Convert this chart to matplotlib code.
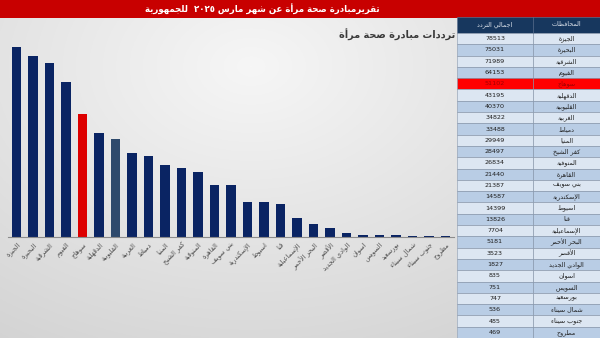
import numpy as np
import matplotlib
matplotlib.use("Agg")
import matplotlib.pyplot as plt
from matplotlib.patches import Rectangle

# ---------------- data ----------------
governorates = ["الجيزة", "البحيرة", "الشرقية", "الفيوم", "سوهاج", "الدقهلية",
                "القليوبية", "الغربية", "دمياط", "المنيا", "كفر الشيخ", "المنوفية",
                "القاهرة", "بني سويف", "الإسكندرية", "اسيوط", "قنا", "الإسماعيلية",
                "البحر الأحمر", "الأقصر", "الوادي الجديد", "اسوان", "السويس",
                "بورسعيد", "شمال سيناء", "جنوب سيناء", "مطروح"]
visits = [78513, 75031, 71989, 64153, 51102, 43195, 40370, 34822, 33488, 29949,
          28497, 26834, 21440, 21387, 14587, 14399, 13826, 7704, 5181, 3523,
          1827, 835, 751, 747, 536, 485, 469]
highlight_red = "سوهاج"
highlight_slate = "القليوبية"
main_title = "تقريرمبادرة صحة مرأة عن شهر مارس ٢٠٢٥  للجمهورية"
chart_title = "ترددات مبادرة صحة مرأة"
col_headers = ["اجمالي التردد", "المحافظات"]

# ------------- simple Arabic shaping (presentation forms + RTL) -------------
DUAL = {'ب': 0xFE8F, 'ت': 0xFE95, 'ث': 0xFE99, 'ج': 0xFE9D, 'ح': 0xFEA1, 'خ': 0xFEA5,
        'س': 0xFEB1, 'ش': 0xFEB5, 'ص': 0xFEB9, 'ض': 0xFEBD, 'ط': 0xFEC1, 'ظ': 0xFEC5,
        'ع': 0xFEC9, 'غ': 0xFECD, 'ف': 0xFED1, 'ق': 0xFED5, 'ك': 0xFED9, 'ل': 0xFEDD,
        'م': 0xFEE1, 'ن': 0xFEE5, 'ه': 0xFEE9, 'ي': 0xFEF1, 'ئ': 0xFE89}
RIGHT = {'ا': 0xFE8D, 'أ': 0xFE83, 'إ': 0xFE87, 'آ': 0xFE81, 'ة': 0xFE93, 'د': 0xFEA9,
         'ذ': 0xFEAB, 'ر': 0xFEAD, 'ز': 0xFEAF, 'و': 0xFEED, 'ى': 0xFEEF, 'ؤ': 0xFE85}
NONE = {'ء': 0xFE80}
LAMALEF = {'آ': 0xFEF5, 'أ': 0xFEF7, 'إ': 0xFEF9, 'ا': 0xFEFB}
DIGITS = set("0123456789٠١٢٣٤٥٦٧٨٩")


def shape(text):
    toks = []
    i = 0
    while i < len(text):
        c = text[i]
        if c == 'ل' and i + 1 < len(text) and text[i + 1] in LAMALEF:
            toks.append(('R', LAMALEF[text[i + 1]]))
            i += 2
            continue
        if c in DUAL:
            toks.append(('D', DUAL[c]))
        elif c in RIGHT:
            toks.append(('R', RIGHT[c]))
        elif c in NONE:
            toks.append(('N', NONE[c]))
        else:
            toks.append(('X', c))
        i += 1
    out = []
    for k, (kind, val) in enumerate(toks):
        if kind == 'X':
            out.append(val)
            continue
        prev = k > 0 and toks[k - 1][0] == 'D'
        nxt = kind == 'D' and k + 1 < len(toks) and toks[k + 1][0] in ('D', 'R')
        if kind == 'N':
            out.append(chr(val))
        elif kind == 'R':
            out.append(chr(val + (1 if prev else 0)))
        else:
            off = {(False, False): 0, (True, False): 1, (False, True): 2, (True, True): 3}[(prev, nxt)]
            out.append(chr(val + off))
    vis = out[::-1]
    res = []
    j = 0
    while j < len(vis):
        if vis[j] in DIGITS:
            m = j
            while m < len(vis) and vis[m] in DIGITS:
                m += 1
            res.extend(vis[j:m][::-1])
            j = m
        else:
            res.append(vis[j])
            j += 1
    return "".join(res)


plt.rcParams['font.family'] = ['DejaVu Sans']

W, H = 600, 338
fig = plt.figure(figsize=(6, 3.38), dpi=100)
fig.patch.set_facecolor('white')

# ---------- background gradient for chart area ----------
bg = fig.add_axes([0, 0, 457 / W, (H - 18) / H])
yy, xx = np.mgrid[0:1:200j, 0:1:300j]
d = np.sqrt(((xx - 0.55) / 1.0) ** 2 + ((yy - 0.15) / 1.0) ** 2)
val = 0.965 - 0.16 * np.clip(d, 0, 1.2) / 1.2
img = np.dstack([val, val, val])
bg.imshow(img, aspect='auto', extent=[0, 1, 1, 0])
bg.set_axis_off()

# ---------- bar chart ----------
left_px = 8.45
width_px = 16.5 * 27
base_px = 237
top_px = 40
ax = fig.add_axes([left_px / W, (H - base_px) / H, width_px / W, (base_px - top_px) / H])
ax.patch.set_alpha(0)
colors = []
for g in governorates:
    if g == highlight_red:
        colors.append('#DD0000')
    elif g == highlight_slate:
        colors.append('#2E4A6C')
    else:
        colors.append('#0A2463')
x = np.arange(len(governorates))
ax.bar(x, visits, width=0.57, color=colors)
ax.set_xlim(-0.5, len(governorates) - 0.5)
ax.set_ylim(0, 78513 * (base_px - top_px) / (base_px - 47.3))
for s in ['top', 'right', 'left']:
    ax.spines[s].set_visible(False)
ax.spines['bottom'].set_color('#8C8C8C')
ax.spines['bottom'].set_linewidth(0.8)
ax.set_yticks([])
ax.set_xticks(x)
ax.set_xticklabels([shape(g) for g in governorates], rotation=45, ha='right', va='top',
                   rotation_mode='anchor', fontsize=4.8, color='#505050')
ax.tick_params(axis='x', length=0, pad=3)

# ---------- overlay for header, table, titles ----------
ov = fig.add_axes([0, 0, 1, 1])
ov.set_xlim(0, W)
ov.set_ylim(H, 0)
ov.set_axis_off()
ov.patch.set_alpha(0)

ov.add_patch(Rectangle((0, 0), W, 18, color='#C80000', lw=0))
ov.text(262, 9, shape(main_title), color='white', fontsize=6.2, fontweight='bold',
        ha='center', va='center')
ov.text(455, 35, shape(chart_title), color='#3A3A3A', fontsize=7, fontweight='bold',
        ha='right', va='center')

# table
tx0, tx1, tx2 = 457, 533, 600
hy0, hy1 = 17, 33
ov.add_patch(Rectangle((tx0, hy0), tx2 - tx0, hy1 - hy0, facecolor='#17375E', edgecolor='#5A6E8C', lw=0.5))
ov.plot([tx1, tx1], [hy0, hy1], color='#5A6E8C', lw=0.5)
ov.text((tx0 + tx1) / 2, (hy0 + hy1) / 2, shape(col_headers[0]), color='#E0E6EE', fontsize=4.6,
        ha='center', va='center')
ov.text((tx1 + tx2) / 2, (hy0 + hy1) / 2, shape(col_headers[1]), color='#E0E6EE', fontsize=4.6,
        ha='center', va='center')

n = len(governorates)
rh = (H - hy1) / n
light, blue = '#DCE6F2', '#B9CDE5'
red_idx = governorates.index(highlight_red)
for i, (g, v) in enumerate(zip(governorates, visits)):
    y0 = hy1 + i * rh
    if g == highlight_red:
        fc, tc = '#FF0000', '#A00000'
    else:
        k = i if i < red_idx else i - red_idx - 1
        fc = light if k % 2 == 0 else blue
        tc = '#1E1E1E'
    ov.add_patch(Rectangle((tx0, y0), tx1 - tx0, rh, facecolor=fc, edgecolor='#7F8EA3', lw=0.4))
    ov.add_patch(Rectangle((tx1, y0), tx2 - tx1, rh, facecolor=fc, edgecolor='#7F8EA3', lw=0.4))
    ov.text((tx0 + tx1) / 2, y0 + rh / 2, str(v), color=tc, fontsize=4.6, ha='center', va='center')
    ov.text((tx1 + tx2) / 2, y0 + rh / 2, shape(g), color=tc, fontsize=4.6, ha='center', va='center')

fig.savefig('out.png', dpi=100)
